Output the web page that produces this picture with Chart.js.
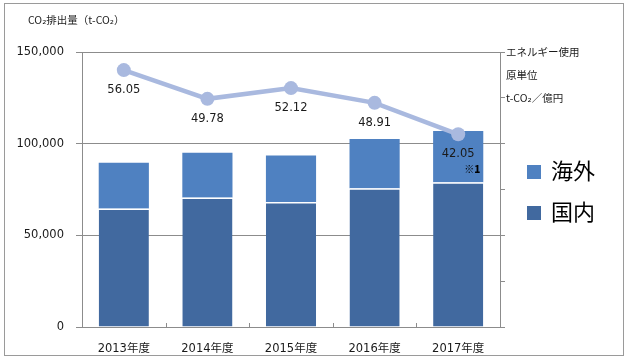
<!DOCTYPE html>
<html>
<head>
<meta charset="utf-8">
<script src="https://cdn.jsdelivr.net/npm/chart.js@4/dist/chart.umd.min.js"></script>
<style>
  html, body { margin: 0; padding: 0; background: #fff; }
  #wrap { width: 626px; height: 360px; position: relative; }
</style>
</head>
<body>
<div id="wrap"><canvas id="c" width="626" height="360"></canvas></div>
<script>
// ---- data ----
const categories = ['2013年度', '2014年度', '2015年度', '2016年度', '2017年度'];
const domestic = [64700, 70700, 68200, 75700, 78900];   // 国内
const overseas = [24900, 24300, 25300, 26900, 28000];   // 海外
const intensity = [56.05, 49.78, 52.12, 48.91, 42.05];  // エネルギー使用原単位
const notes = ['', '', '', '', '※1'];
const leftTicks = [0, 50000, 100000, 150000];
const rightLabels = { 60: 'エネルギー使用', 55: '原単位', 50: 't-CO₂／億円' };
const yTitle = 'CO₂排出量（t-CO₂）';

const FONT = '"DejaVu Sans", "Noto Sans CJK JP", sans-serif';
const CJK = '"Noto Sans CJK JP", "DejaVu Sans", sans-serif';
const GRID = '#8c8c8c';
const TXT = '#1a1a1a';

const extras = {
  id: 'extras',
  beforeDraw(chart) {
    const ctx = chart.ctx;
    ctx.save();
    ctx.fillStyle = '#fff';
    ctx.fillRect(0, 0, chart.width, chart.height);
    ctx.restore();
  },
  afterDraw(chart) {
    const ctx = chart.ctx;
    const x = chart.scales.x, y1 = chart.scales.y1;
    const area = chart.chartArea;
    ctx.save();
    // outer frame
    ctx.strokeStyle = '#9a9a9a';
    ctx.lineWidth = 1;
    ctx.strokeRect(4.5, 3.5, 619, 352);
    // category separator ticks on x axis
    ctx.strokeStyle = GRID;
    for (let i = 1; i < categories.length; i++) {
      const px = Math.round((x.getPixelForTick(i - 1) + x.getPixelForTick(i)) / 2) + 0.5;
      ctx.beginPath();
      ctx.moveTo(px, area.bottom);
      ctx.lineTo(px, area.bottom - 4);
      ctx.stroke();
    }
    // y title
    ctx.fillStyle = TXT;
    ctx.font = '10.5px ' + CJK;
    ctx.textAlign = 'left';
    ctx.textBaseline = 'middle';
    ctx.fillText(yTitle, 28, 20);
    // line data labels
    ctx.textAlign = 'center';
    intensity.forEach((v, i) => {
      const px = x.getPixelForValue(i);
      const py = y1.getPixelForValue(v);
      ctx.fillStyle = TXT;
      ctx.font = '11.5px ' + FONT;
      ctx.fillText(v.toFixed(2), px, py + 20);
      if (notes[i]) {
        ctx.font = '900 10px ' + CJK;
        ctx.fillStyle = '#000';
        ctx.fillText(notes[i], px + 14, py + 35);
      }
    });
    // legend (海外 on top)
    const items = [chart.data.datasets[2], chart.data.datasets[1]];
    items.forEach((ds, k) => {
      const cy = 172 + k * 41;
      ctx.fillStyle = ds.backgroundColor;
      ctx.fillRect(527, cy - 7, 14, 14);
      ctx.fillStyle = '#000';
      ctx.font = '22px ' + CJK;
      ctx.textAlign = 'left';
      ctx.textBaseline = 'middle';
      ctx.fillText(ds.label, 551, cy - 1);
    });
    ctx.restore();
  }
};

new Chart(document.getElementById('c'), {
  data: {
    labels: categories,
    datasets: [
      {
        type: 'line',
        label: 'エネルギー使用原単位',
        data: intensity,
        yAxisID: 'y1',
        borderColor: '#A9B9DF',
        backgroundColor: '#A9B9DF',
        borderWidth: 4.5,
        pointRadius: 7,
        pointHoverRadius: 7,
        pointBorderWidth: 0,
        tension: 0,
        order: 0
      },
      {
        type: 'bar',
        label: '国内',
        data: domestic,
        yAxisID: 'y',
        backgroundColor: '#41699F',
        borderColor: '#ffffff',
        borderWidth: { top: 1.5, left: 0, right: 0, bottom: 0 },
        borderSkipped: false,
        barPercentage: 0.6,
        categoryPercentage: 1,
        order: 1
      },
      {
        type: 'bar',
        label: '海外',
        data: overseas,
        yAxisID: 'y',
        backgroundColor: '#4F81C1',
        borderWidth: 0,
        barPercentage: 0.6,
        categoryPercentage: 1,
        order: 1
      }
    ]
  },
  options: {
    responsive: false,
    animation: false,
    layout: { padding: { top: 52, left: 0, right: 0, bottom: 0 } },
    plugins: { legend: { display: false }, tooltip: { enabled: false } },
    scales: {
      x: {
        stacked: true,
        offset: true,
        grid: { display: true, drawOnChartArea: false, drawTicks: false },
        border: { display: true, color: GRID, width: 1 },
        ticks: { color: TXT, font: { family: FONT, size: 11.5 }, padding: 15, maxRotation: 0 },
        afterFit(s) { s.height = 33; }
      },
      y: {
        stacked: true,
        position: 'left',
        min: 0,
        max: 150000,
        afterBuildTicks(s) { s.ticks = leftTicks.map(v => ({ value: v })); },
        grid: { color: GRID, tickLength: 6, tickColor: GRID },
        border: { display: true, color: GRID, width: 1 },
        ticks: {
          color: TXT,
          font: { family: FONT, size: 11.5 },
          padding: 12,
          callback: v => v.toLocaleString('en-US')
        },
        afterFit(s) { s.width = 82; }
      },
      y1: {
        position: 'right',
        min: 0,
        max: 60,
        ticks: {
          stepSize: 5,
          autoSkip: false,
          color: TXT,
          font: { family: CJK, size: 10.5 },
          padding: 1,
          callback: v => rightLabels[v] || ''
        },
        grid: {
          drawOnChartArea: false,
          tickLength: 5,
          tickColor: c => (c.tick && c.tick.value % 10 === 0) ? GRID : 'rgba(0,0,0,0)'
        },
        border: { display: true, color: GRID, width: 1 },
        afterFit(s) { s.width = 126; }
      }
    }
  },
  plugins: [extras]
});
</script>
</body>
</html>
